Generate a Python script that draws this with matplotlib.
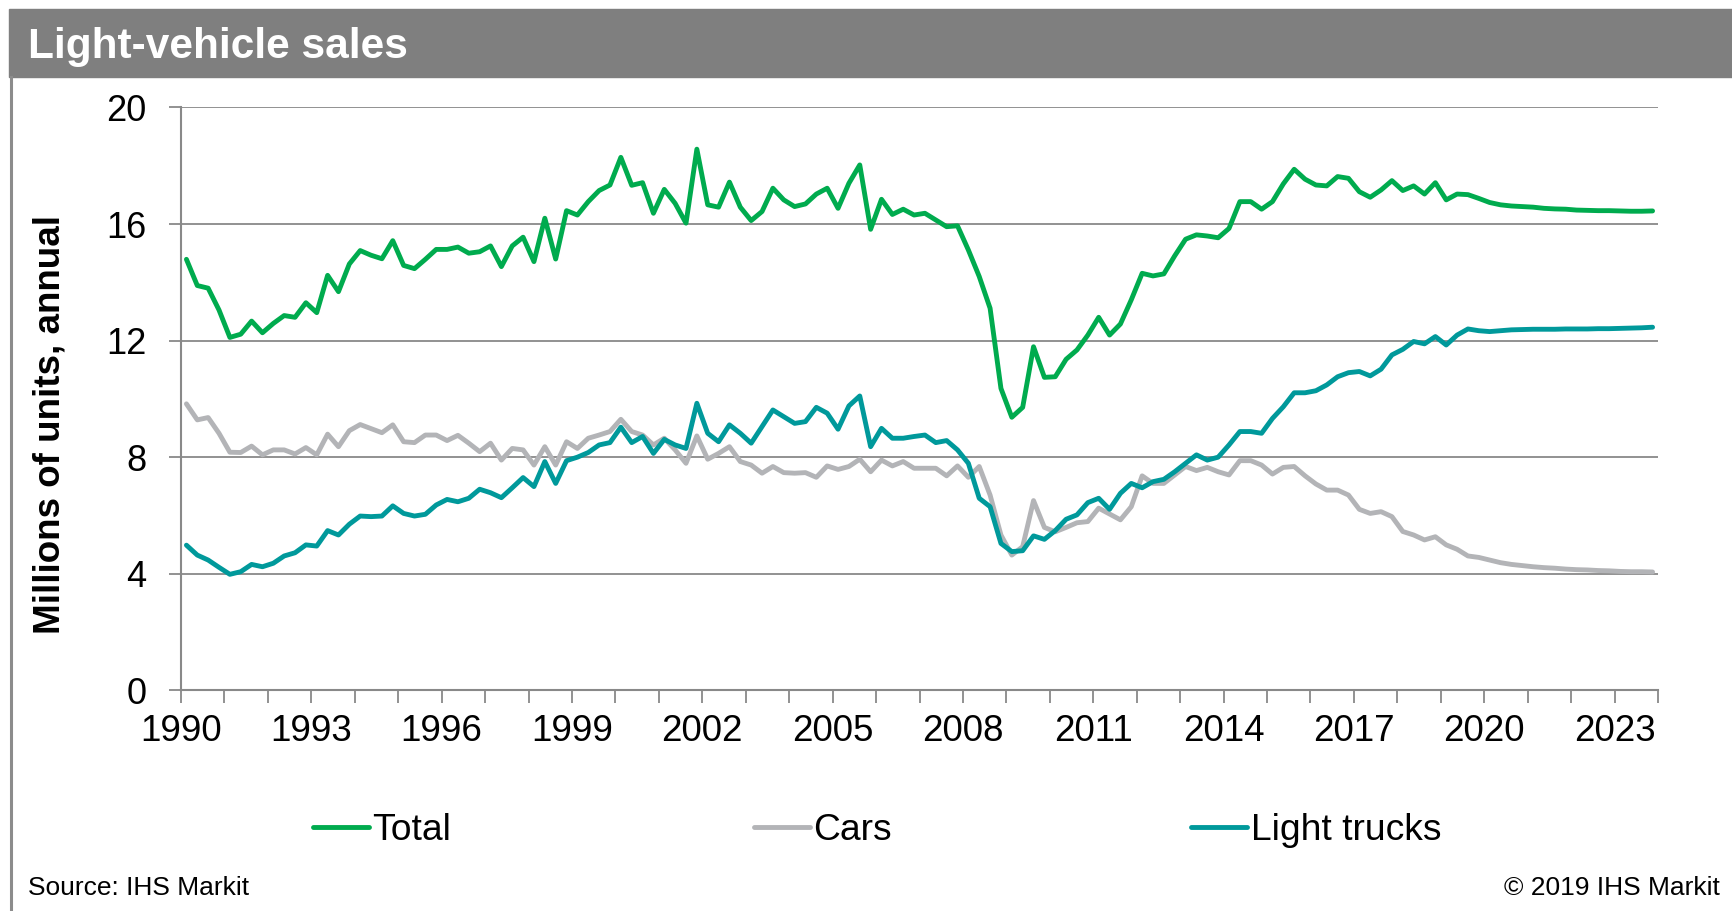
import numpy as np
import matplotlib.pyplot as plt
from matplotlib.patches import Rectangle
from matplotlib.lines import Line2D

plt.rcParams['font.family'] = ['Liberation Sans', 'DejaVu Sans']

# quarterly data, 1990Q1 .. 2023Q4 (millions of units, annual rate)
total = [
    14.79, 13.89, 13.80, 13.05, 12.11, 12.22, 12.67, 12.27, 12.59, 12.86,
    12.80, 13.30, 12.96, 14.24, 13.68, 14.63, 15.09, 14.93, 14.81, 15.43,
    14.58, 14.47, 14.79, 15.13, 15.13, 15.21, 15.00, 15.05, 15.25, 14.54,
    15.25, 15.55, 14.71, 16.20, 14.80, 16.46, 16.31, 16.77, 17.15, 17.34,
    18.29, 17.33, 17.42, 16.37, 17.19, 16.71, 16.03, 18.57, 16.66, 16.58,
    17.44, 16.58, 16.12, 16.43, 17.23, 16.83, 16.60, 16.69, 17.03, 17.23,
    16.54, 17.40, 18.03, 15.82, 16.85, 16.33, 16.51, 16.31, 16.37, 16.14,
    15.91, 15.94, 15.11, 14.20, 13.11, 10.36, 9.37, 9.71, 11.79, 10.74,
    10.76, 11.36, 11.68, 12.19, 12.80, 12.19, 12.57, 13.40, 14.31, 14.22,
    14.29, 14.91, 15.48, 15.63, 15.59, 15.53, 15.85, 16.77, 16.77, 16.51,
    16.77, 17.38, 17.88, 17.54, 17.34, 17.31, 17.63, 17.57, 17.11, 16.92,
    17.17, 17.49, 17.15, 17.31, 17.03, 17.42, 16.83, 17.03, 17.01, 16.88,
    16.74, 16.66, 16.62, 16.60, 16.58, 16.54, 16.52, 16.51, 16.48, 16.47,
    16.46, 16.46, 16.45, 16.44, 16.44, 16.45]

cars = [
    9.83, 9.28, 9.36, 8.82, 8.17, 8.16, 8.38, 8.08, 8.25, 8.25,
    8.11, 8.33, 8.08, 8.79, 8.36, 8.91, 9.12, 8.98, 8.84, 9.11,
    8.53, 8.50, 8.76, 8.76, 8.57, 8.75, 8.48, 8.19, 8.48, 7.90,
    8.30, 8.25, 7.73, 8.36, 7.73, 8.53, 8.30, 8.65, 8.76, 8.88,
    9.30, 8.88, 8.76, 8.42, 8.65, 8.25, 7.79, 8.73, 7.93, 8.13,
    8.36, 7.85, 7.73, 7.45, 7.68, 7.47, 7.45, 7.47, 7.31, 7.70,
    7.58, 7.68, 7.93, 7.50, 7.90, 7.70, 7.85, 7.62, 7.62, 7.62,
    7.36, 7.70, 7.31, 7.68, 6.70, 5.33, 4.64, 4.93, 6.51, 5.59,
    5.44, 5.59, 5.75, 5.79, 6.25, 6.05, 5.85, 6.30, 7.36, 7.10,
    7.10, 7.39, 7.68, 7.54, 7.65, 7.50, 7.39, 7.88, 7.88, 7.73,
    7.42, 7.65, 7.68, 7.36, 7.08, 6.87, 6.87, 6.70, 6.21, 6.07,
    6.13, 5.96, 5.45, 5.33, 5.16, 5.27, 4.99, 4.84, 4.61, 4.56,
    4.47, 4.38, 4.32, 4.28, 4.24, 4.21, 4.19, 4.16, 4.14, 4.13,
    4.11, 4.10, 4.08, 4.07, 4.07, 4.06]

trucks = [
    4.98, 4.64, 4.47, 4.22, 3.98, 4.07, 4.32, 4.24, 4.36, 4.61,
    4.72, 4.99, 4.95, 5.48, 5.33, 5.70, 5.98, 5.96, 5.98, 6.33,
    6.07, 5.98, 6.04, 6.36, 6.55, 6.47, 6.59, 6.90, 6.78, 6.61,
    6.95, 7.30, 6.99, 7.85, 7.10, 7.88, 8.00, 8.16, 8.42, 8.50,
    9.03, 8.50, 8.71, 8.13, 8.61, 8.42, 8.30, 9.85, 8.82, 8.53,
    9.11, 8.82, 8.48, 9.05, 9.62, 9.39, 9.16, 9.22, 9.71, 9.51,
    8.96, 9.76, 10.10, 8.36, 8.99, 8.65, 8.65, 8.71, 8.76, 8.50,
    8.57, 8.25, 7.79, 6.59, 6.30, 5.04, 4.76, 4.79, 5.30, 5.18,
    5.48, 5.87, 6.02, 6.44, 6.59, 6.21, 6.76, 7.10, 6.95, 7.16,
    7.24, 7.50, 7.79, 8.08, 7.90, 8.00, 8.42, 8.88, 8.88, 8.82,
    9.33, 9.73, 10.21, 10.21, 10.28, 10.48, 10.76, 10.90, 10.94, 10.79,
    11.02, 11.51, 11.70, 11.97, 11.89, 12.14, 11.85, 12.19, 12.40, 12.34,
    12.31, 12.34, 12.37, 12.38, 12.39, 12.39, 12.39, 12.40, 12.40, 12.40,
    12.41, 12.41, 12.42, 12.43, 12.44, 12.46]

start_year = 1990
end_year = 2024
label_years = list(range(1990, 2024, 3))
y_ticks = [0, 4, 8, 12, 16, 20]

GREEN = '#00AB4E'
GREY = '#B3B4B7'
TEAL = '#00999B'
AXGREY = '#898989'

W, H = 1732, 911
fig = plt.figure(figsize=(W / 100, H / 100), dpi=100)

# header bar + left frame line
fig.patches.append(Rectangle((9 / W, 1 - 77 / H), 1 - 9 / W, 68 / H,
                             transform=fig.transFigure, color='#7F7F7F', zorder=0))
fig.lines.append(Line2D([11 / W, 11 / W], [0, 1 - 77 / H], transform=fig.transFigure,
                        color='#8C8C8C', lw=2.2))
fig.text(28 / W, 1 - 47 / H, 'Light-vehicle sales', color='white', fontsize=30.5,
         fontweight='bold', va='center', ha='left')

ax = fig.add_axes([181 / W, 1 - 690.3 / H, (1658 - 181) / W, (690.3 - 107.5) / H])

x = start_year + (np.arange(len(total)) + 0.5) / 4
ax.plot(x, total, color=GREEN, lw=3.5, solid_joinstyle='round', solid_capstyle='round', label='Total')
ax.plot(x, cars, color=GREY, lw=3.5, solid_joinstyle='round', solid_capstyle='round', label='Cars')
ax.plot(x, trucks, color=TEAL, lw=3.5, solid_joinstyle='round', solid_capstyle='round', label='Light trucks')

ax.set_xlim(start_year, end_year)
ax.set_ylim(0, 20)
ax.set_yticks(y_ticks)
ax.set_yticklabels([str(v) for v in y_ticks])
years = list(range(start_year, end_year + 1))
ax.set_xticks(years)
ax.set_xticklabels([str(yr) if yr in label_years else '' for yr in years])

ax.grid(axis='y', color=AXGREY, lw=1.3)
ax.set_axisbelow(True)
for s in ['top', 'right']:
    ax.spines[s].set_visible(False)
for s in ['left', 'bottom']:
    ax.spines[s].set_color(AXGREY)
    ax.spines[s].set_linewidth(1.5)
ax.tick_params(axis='y', length=9, width=1.3, color=AXGREY, pad=16, labelsize=26)
ax.tick_params(axis='x', length=9, width=1.3, color=AXGREY, pad=8, labelsize=26.5)

fig.text(50 / W, 1 - 425 / H, 'Millions of units, annual', rotation=90, fontsize=26.5,
         fontweight='bold', va='center', ha='center')

# legend, three separately placed entries
handles = ax.get_lines()
for h, xpos in zip(handles, [313, 754, 1191]):
    fig.legend(handles=[h], loc='center left', bbox_to_anchor=(xpos / W, 1 - 831 / H),
               frameon=False, fontsize=26.8, handlelength=1.5, handletextpad=0.1,
               borderpad=0, borderaxespad=0)

fig.text(28 / W, 1 - 888 / H, 'Source: IHS Markit', fontsize=19, va='center', ha='left')
fig.text(1720 / W, 1 - 888 / H, '\u00a9 2019 IHS Markit', fontsize=19, va='center', ha='right')

fig.savefig('out.png', dpi=100)
